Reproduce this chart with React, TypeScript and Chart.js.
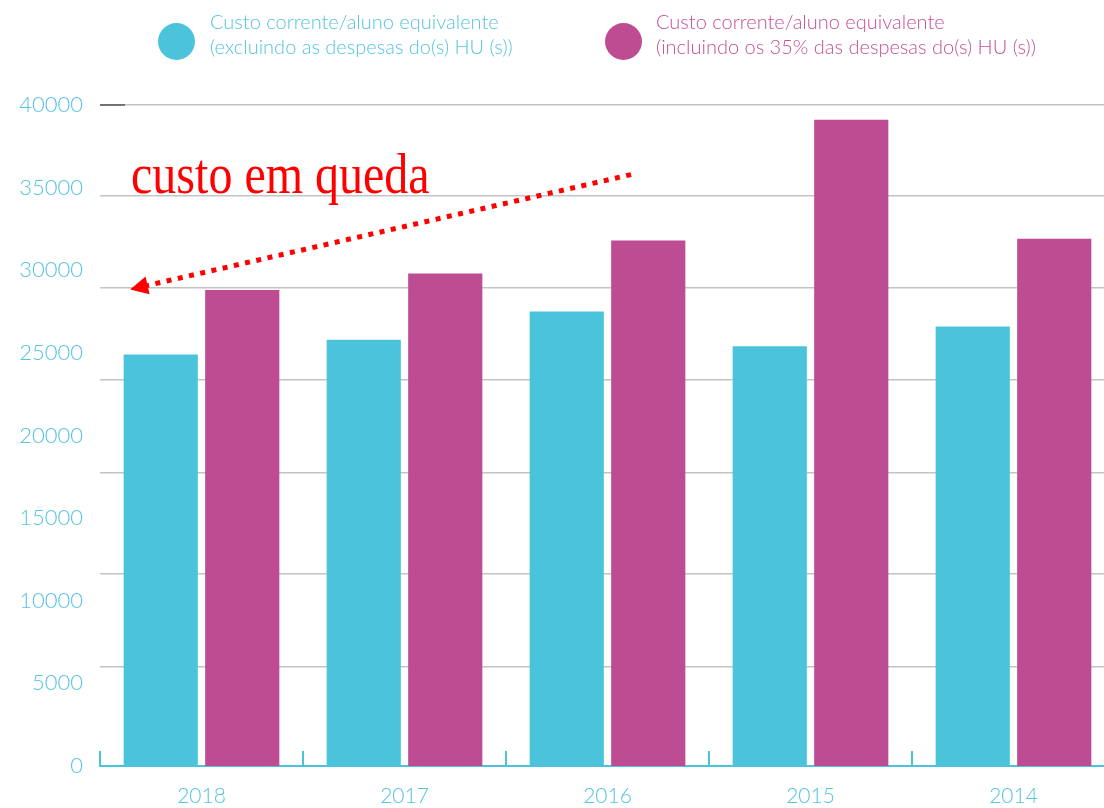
import React, { useEffect, useRef } from "react";
import { Chart, registerables } from "chart.js";

Chart.register(...registerables);

const categories = ["2018", "2017", "2016", "2015", "2014"];
const seriesExcl = [24900, 25800, 27500, 25400, 26600];
const seriesIncl = [28800, 29800, 31800, 39100, 31900];
const yTickValues = [0, 5000, 10000, 15000, 20000, 25000, 30000, 35000, 40000];
const gridLineValues = [5990, 11620, 17730, 23360, 28930, 34490, 40000];
const legendLabels = [
  ["Custo corrente/aluno equivalente", "(excluindo as despesas do(s) HU (s))"],
  ["Custo corrente/aluno equivalente", "(incluindo os 35% das despesas do(s) HU (s))"],
];
const annotationText = "custo em queda";
// annotation anchors in scale units: [category index, value]
const arrowStart = [2.116, 35790];
const arrowTip = [-0.352, 28840];
const textAnchor = [-0.347, 34680];

const CYAN = "#4BC3DB";
const MAGENTA = "#BE4C93";
const LABEL_CYAN = "#55C4DE";
const RED = "#FF0000";

const decorPlugin = {
  id: "decor",
  afterDraw(chart: any) {
    const { ctx, chartArea, scales } = chart;
    const x = scales.x;
    const y = scales.y;
    ctx.save();
    // dark short segment on top gridline
    ctx.strokeStyle = "#555";
    ctx.lineWidth = 1.5;
    ctx.beginPath();
    ctx.moveTo(chartArea.left, y.getPixelForValue(40000));
    ctx.lineTo(chartArea.left + 25, y.getPixelForValue(40000));
    ctx.stroke();
    // category boundary ticks
    ctx.strokeStyle = CYAN;
    ctx.lineWidth = 2;
    for (let i = 0; i <= categories.length; i++) {
      const px = x.getPixelForValue(i - 0.5);
      ctx.beginPath();
      ctx.moveTo(px, chartArea.bottom);
      ctx.lineTo(px, chartArea.bottom - 15);
      ctx.stroke();
    }
    // annotation text
    const tx = x.getPixelForValue(textAnchor[0]);
    const ty = y.getPixelForValue(textAnchor[1]);
    ctx.fillStyle = RED;
    ctx.font = '48px "Liberation Serif", "Times New Roman", serif';
    ctx.textBaseline = "alphabetic";
    ctx.textAlign = "left";
    ctx.translate(tx, ty);
    ctx.scale(1, 1.2);
    ctx.fillText(annotationText, 0, 0);
    ctx.setTransform(1, 0, 0, 1, 0, 0);
    // arrow
    const sx = x.getPixelForValue(arrowStart[0]);
    const sy = y.getPixelForValue(arrowStart[1]);
    const ex = x.getPixelForValue(arrowTip[0]);
    const ey = y.getPixelForValue(arrowTip[1]);
    const dx = ex - sx;
    const dy = ey - sy;
    const len = Math.hypot(dx, dy);
    const ux = dx / len;
    const uy = dy / len;
    const headLen = 18;
    const headHalf = 9;
    const bx = ex - ux * headLen;
    const by = ey - uy * headLen;
    ctx.strokeStyle = RED;
    ctx.lineWidth = 5;
    ctx.lineCap = "butt";
    ctx.setLineDash([5, 6.5]);
    ctx.beginPath();
    ctx.moveTo(sx, sy);
    ctx.lineTo(bx + ux * 2, by + uy * 2);
    ctx.stroke();
    ctx.setLineDash([]);
    ctx.fillStyle = RED;
    ctx.beginPath();
    ctx.moveTo(ex, ey);
    ctx.lineTo(bx - uy * headHalf, by + ux * headHalf);
    ctx.lineTo(bx + uy * headHalf, by - ux * headHalf);
    ctx.closePath();
    ctx.fill();
    ctx.restore();
  },
};

export default function App() {
  const ref = useRef<HTMLCanvasElement | null>(null);
  useEffect(() => {
    if (!ref.current) return;
    const chart = new Chart(ref.current, {
      type: "bar",
      data: {
        labels: categories,
        datasets: [
          {
            label: legendLabels[0].join(" "),
            data: seriesExcl,
            backgroundColor: CYAN,
            categoryPercentage: 0.803,
            barPercentage: 0.91,
          },
          {
            label: legendLabels[1].join(" "),
            data: seriesIncl,
            backgroundColor: MAGENTA,
            categoryPercentage: 0.803,
            barPercentage: 0.91,
          },
        ],
      },
      options: {
        animation: false,
        responsive: false,
        maintainAspectRatio: false,
        layout: { padding: { top: 105, right: 15, left: 0, bottom: 0 } },
        plugins: { legend: { display: false }, tooltip: { enabled: false } },
        scales: {
          x: {
            type: "category",
            grid: { display: false, drawTicks: false },
            border: { display: true, color: CYAN, width: 2 },
            ticks: {
              color: LABEL_CYAN,
              font: { family: "Lato", size: 21, weight: "300" },
              padding: 18,
            },
            afterFit(scale: any) {
              scale.height = 42;
            },
          },
          y: {
            position: "left",
            min: 0,
            max: 40000,
            grid: { display: false, drawTicks: false },
            border: { display: false },
            ticks: {
              color: LABEL_CYAN,
              font: { family: "Lato", size: 22, weight: "300" },
              padding: 17,
              callback: (v: any) => String(v),
            },
            afterBuildTicks(scale: any) {
              scale.ticks = yTickValues.map((v) => ({ value: v }));
            },
            afterFit(scale: any) {
              scale.width = 100;
            },
          },
          yGrid: {
            position: "right",
            min: 0,
            max: 40000,
            grid: { display: true, color: "#C4C4C4", lineWidth: 1.5, drawTicks: false },
            border: { display: false },
            ticks: { display: false },
            afterBuildTicks(scale: any) {
              scale.ticks = gridLineValues.map((v) => ({ value: v }));
            },
            afterFit(scale: any) {
              scale.width = 0;
            },
          },
        },
      } as any,
      plugins: [decorPlugin],
    });
    return () => chart.destroy();
  }, []);

  const legendFont: React.CSSProperties = {
    position: "absolute",
    fontFamily: "Lato, sans-serif",
    fontWeight: 300,
    fontSize: 20,
    lineHeight: "25px",
    whiteSpace: "nowrap",
  };

  return (
    <div
      style={{
        position: "fixed",
        left: 0,
        top: 0,
        width: 1104,
        height: 808,
        overflow: "hidden",
        background: "#fff",
      }}
    >
      <canvas ref={ref} width={1130} height={808} style={{ position: "absolute", left: 0, top: 0 }} />
      <div
        style={{
          position: "absolute",
          left: 158,
          top: 23,
          width: 37,
          height: 37,
          borderRadius: "50%",
          background: CYAN,
        }}
      />
      <div style={{ ...legendFont, left: 210, top: 9, color: LABEL_CYAN }}>
        <div>{legendLabels[0][0]}</div>
        <div>{legendLabels[0][1]}</div>
      </div>
      <div
        style={{
          position: "absolute",
          left: 605,
          top: 23,
          width: 37,
          height: 37,
          borderRadius: "50%",
          background: MAGENTA,
        }}
      />
      <div style={{ ...legendFont, left: 656, top: 9, color: "#C4509A" }}>
        <div>{legendLabels[1][0]}</div>
        <div>{legendLabels[1][1]}</div>
      </div>
    </div>
  );
}
